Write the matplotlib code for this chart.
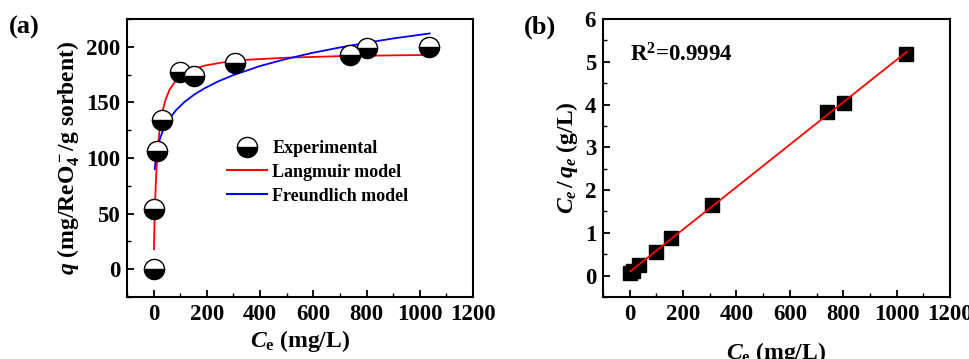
import matplotlib
matplotlib.use("Agg")
import matplotlib.pyplot as plt
from matplotlib.ticker import MultipleLocator
from matplotlib.lines import Line2D

# ---------------- data ----------------
ce = [0, 2, 12, 33, 99, 153, 307, 738, 802, 1035]
q_exp = [0, 54, 106, 134, 177, 174, 185, 192.5, 198.5, 200]

lang_x = [1.3, 2, 3, 4.5, 6, 8, 11, 15, 20, 27, 35, 45, 60, 80, 105, 140, 190,
          260, 350, 500, 700, 900, 1037]
lang_y = [18, 27, 38, 52, 63, 76, 91, 106, 120, 133, 143.5, 152.5, 161.5, 168.5,
          174, 179, 183, 186, 188.3, 190.2, 191.6, 192.3, 192.7]

freu_x = [4.4, 6, 8, 12, 17, 25, 35, 45, 60, 85, 115, 150, 190, 240, 300, 400,
          500, 600, 700, 800, 900, 1037]
freu_y = [90, 94.5, 98.8, 105.3, 111.3, 118.2, 124.6, 129.6, 135.6, 143.2, 150.2,
          156.6, 162.5, 168.6, 174.6, 182.7, 189.2, 194.7, 199.4, 203.6, 207.5, 212]

lin_ce = [2, 12, 33, 99, 153, 307, 738, 802, 1035]
lin_ratio = [0.07, 0.11, 0.25, 0.56, 0.88, 1.66, 3.83, 4.04, 5.17]
fit_x = [2.5, 1037]
fit_y = [0.10, 5.23]

r2_text = "R$^{2}$=0.9994"

# ---------------- style ----------------
plt.rcParams['font.family'] = ['Liberation Serif', 'DejaVu Serif']
plt.rcParams['font.weight'] = 'bold'
plt.rcParams['mathtext.fontset'] = 'custom'
plt.rcParams['mathtext.rm'] = 'Liberation Serif:bold'
plt.rcParams['mathtext.it'] = 'Liberation Serif:italic:bold'
plt.rcParams['mathtext.bf'] = 'Liberation Serif:bold'
plt.rcParams['axes.linewidth'] = 1.5

fig = plt.figure(figsize=(9.7, 3.59), dpi=100)
ax1 = fig.add_axes([127/970, 1-297/359, 346/970, 278/359])
ax2 = fig.add_axes([603/970, 1-297/359, 347/970, 278/359])

TICK_FS = 16.5
LAB_FS = 17

for ax in (ax1, ax2):
    ax.tick_params(axis='both', which='both', direction='in', top=False, right=False,
                   labelsize=TICK_FS, pad=5)
    ax.tick_params(which='major', length=5, width=1.3)
    ax.tick_params(which='minor', length=3, width=1.0)
    ax.set_xlim(-100, 1200)
    ax.xaxis.set_major_locator(MultipleLocator(200))
    ax.xaxis.set_minor_locator(MultipleLocator(100))
    for lab in ax.get_xticklabels() + ax.get_yticklabels():
        lab.set_fontweight('bold')

# panel (a)
ax1.plot(lang_x, lang_y, color='#ff0000', lw=1.3, zorder=2)
ax1.plot(freu_x, freu_y, color='#0000ff', lw=1.3, zorder=2)
ax1.plot(ce, q_exp, linestyle='none', marker='o', markersize=14.5, fillstyle='bottom',
         markerfacecolor='black', markerfacecoloralt='white', markeredgecolor='black',
         markeredgewidth=1.0, zorder=3)
ax1.set_ylim(-25, 225)
ax1.yaxis.set_major_locator(MultipleLocator(50))
ax1.yaxis.set_minor_locator(MultipleLocator(25))
ax1.set_xlabel(r'$C_\mathrm{e}$ (mg/L)', fontsize=LAB_FS, fontweight='bold', labelpad=2)
ax1.set_ylabel(r'$q$ (mg/ReO$_4^-$/g sorbent)', fontsize=LAB_FS, fontweight='bold', labelpad=3)

handles = [
    Line2D([], [], linestyle='none', marker='o', markersize=14.5, fillstyle='bottom',
           markerfacecolor='black', markerfacecoloralt='white', markeredgecolor='black',
           markeredgewidth=1.0),
    Line2D([], [], color='#ff0000', lw=1.5),
    Line2D([], [], color='#0000ff', lw=1.5),
]
ax1.legend(handles, ['Experimental', 'Langmuir model', 'Freundlich model'],
           loc='upper left', bbox_to_anchor=(0.29, 0.565), frameon=False,
           prop={'family': 'Liberation Serif', 'weight': 'bold', 'size': 13},
           handlelength=2.2, handletextpad=0.3, labelspacing=0.38, borderpad=0,
           borderaxespad=0)

fig.text(9/970, 1-27/359, '(a)', fontsize=19, fontweight='bold', va='center', ha='left')

# panel (b)
ax2.plot(fit_x, fit_y, color='#ff0000', lw=1.3, zorder=3)
ax2.plot(lin_ce, lin_ratio, linestyle='none', marker='s', markersize=10.5,
         color='black', zorder=2)
ax2.set_ylim(-0.5, 6)
ax2.yaxis.set_major_locator(MultipleLocator(1))
ax2.yaxis.set_minor_locator(MultipleLocator(0.5))
ax2.set_xlabel(r'$C_\mathrm{e}$ (mg/L)', fontsize=LAB_FS, fontweight='bold', labelpad=11)
ax2.set_ylabel(r'$C_e\,/\,q_e$ (g/L)', fontsize=LAB_FS, fontweight='bold', labelpad=3)
ax2.text(0, 5.15, r2_text, fontsize=16.5, fontweight='bold', va='center', ha='left')

fig.text(524/970, 1-27/359, '(b)', fontsize=19, fontweight='bold', va='center', ha='left')

fig.savefig('out.png', dpi=100)
